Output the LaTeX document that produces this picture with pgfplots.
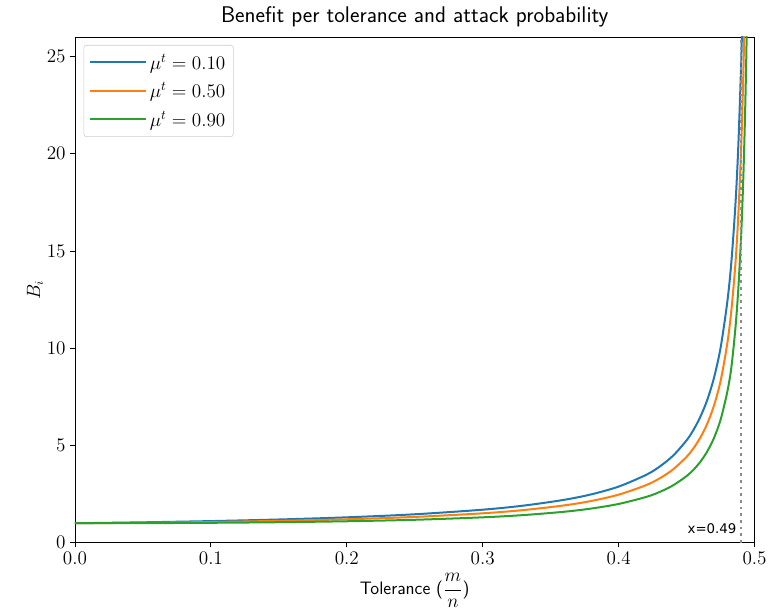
\documentclass[border=0pt]{standalone}
\usepackage{fontspec}
\usepackage{pgfplots}
\usepackage{pgfplotstable}
\pgfplotsset{compat=1.18}
\newfontfamily\dejavu{DejaVu Sans}

\definecolor{tabblue}{HTML}{1F77B4}
\definecolor{taborange}{HTML}{FF7F0E}
\definecolor{tabgreen}{HTML}{2CA02C}

% Benefit B_i against tolerance m/n, one table per attack probability
\pgfplotstableread{
x B
0     1.000
0.05  1.048
0.10  1.111
0.15  1.193
0.20  1.304
0.25  1.461
0.30  1.697
0.33  1.906
0.36  2.205
0.38  2.488
0.40  2.885
0.42  3.480
0.43  3.904
0.44  4.470
0.45  5.263
0.455 5.794
0.46  6.456
0.465 7.305
0.47  8.439
0.475 10.02
0.48  12.41
0.483 14.49
0.486 17.48
0.488 20.33
0.49  24.33
0.491 26.95
0.492 30.30
}\mulow

\pgfplotstableread{
x B
0     1.000
0.05  1.024
0.10  1.064
0.15  1.122
0.20  1.204
0.25  1.325
0.30  1.511
0.33  1.678
0.36  1.919
0.38  2.147
0.40  2.470
0.42  2.953
0.43  3.301
0.44  3.765
0.45  4.415
0.455 4.847
0.46  5.391
0.465 6.087
0.47  7.018
0.475 8.31
0.48  10.28
0.483 11.99
0.486 14.43
0.488 16.78
0.49  20.04
0.491 22.22
0.492 24.88
0.493 28.40
}\mumid

\pgfplotstableread{
x B
0     1.000
0.05  1.006
0.10  1.023
0.15  1.053
0.20  1.102
0.25  1.178
0.30  1.304
0.33  1.420
0.36  1.591
0.38  1.757
0.40  1.992
0.42  2.347
0.43  2.603
0.44  2.945
0.45  3.426
0.455 3.747
0.46  4.149
0.465 4.669
0.47  5.359
0.475 6.323
0.48  7.776
0.483 9.05
0.486 11.1
0.488 13.0
0.49  15.6
0.491 17.3
0.492 19.4
0.493 22.0
0.494 25.3
0.495 29.6
}\muhigh

\begin{document}
\begin{tikzpicture}
\begin{axis}[
  scale only axis,
  width=510pt, height=379.5pt,
  xmin=0, xmax=0.5, ymin=0, ymax=26,
  xtick={0,0.1,0.2,0.3,0.4,0.5},
  ytick={0,5,10,15,20,25},
  xticklabel style={/pgf/number format/fixed, /pgf/number format/fixed zerofill, /pgf/number format/precision=1},
  tick label style={font=\fontsize{13.5}{16}\selectfont},
  tick align=outside,
  major tick length=3.5pt,
  xtick pos=left, ytick pos=left,
  tick style={black, line width=0.6pt},
  axis line style={line width=0.6pt},
  title={\sffamily\fontsize{17}{20}\selectfont Benefit per tolerance and attack probability},
  title style={yshift=-2pt},
  xlabel={\sffamily\fontsize{13.5}{16}\selectfont Tolerance ($\displaystyle\frac{m}{n}$)},
  ylabel={\fontsize{13.5}{16}\selectfont $B_i$},
  xlabel style={yshift=0pt},
  ylabel style={yshift=-4pt},
  legend cell align=left,
  legend style={at={(0,1)}, anchor=north west, xshift=6.5pt, yshift=-6pt,
    draw=black!20, rounded corners=2pt, fill=white,
    font=\fontsize{14.5}{17}\selectfont, row sep=4.5pt,
    inner xsep=4pt, inner ysep=4.5pt},
  legend image code/.code={\draw[#1] (0pt,0pt) -- (30.75pt,0pt);
    \path (0pt,0pt) -- (42pt,0pt);},
]
\addplot[tabblue, line width=1.5pt, smooth] table[x=x, y=B] {\mulow};
\addlegendentry{$\mu^t = 0.10$}
\addplot[taborange, line width=1.5pt, smooth] table[x=x, y=B] {\mumid};
\addlegendentry{$\mu^t = 0.50$}
\addplot[tabgreen, line width=1.5pt, smooth] table[x=x, y=B] {\muhigh};
\addlegendentry{$\mu^t = 0.90$}
% threshold marker
\addplot[black!45, line width=2pt, dash pattern=on 2pt off 3pt, forget plot]
  coordinates {(0.49,0) (0.49,26)};
\node[anchor=east, font=\dejavu\fontsize{10}{12}\selectfont, inner sep=0pt]
  at (axis cs:0.4868,0.72) {x=0.49};
\end{axis}
\path (current axis.south west) -- ++(-56.25pt,-54pt);
\path (current axis.north east) -- ++(12pt,27.75pt);
\end{tikzpicture}
\end{document}
